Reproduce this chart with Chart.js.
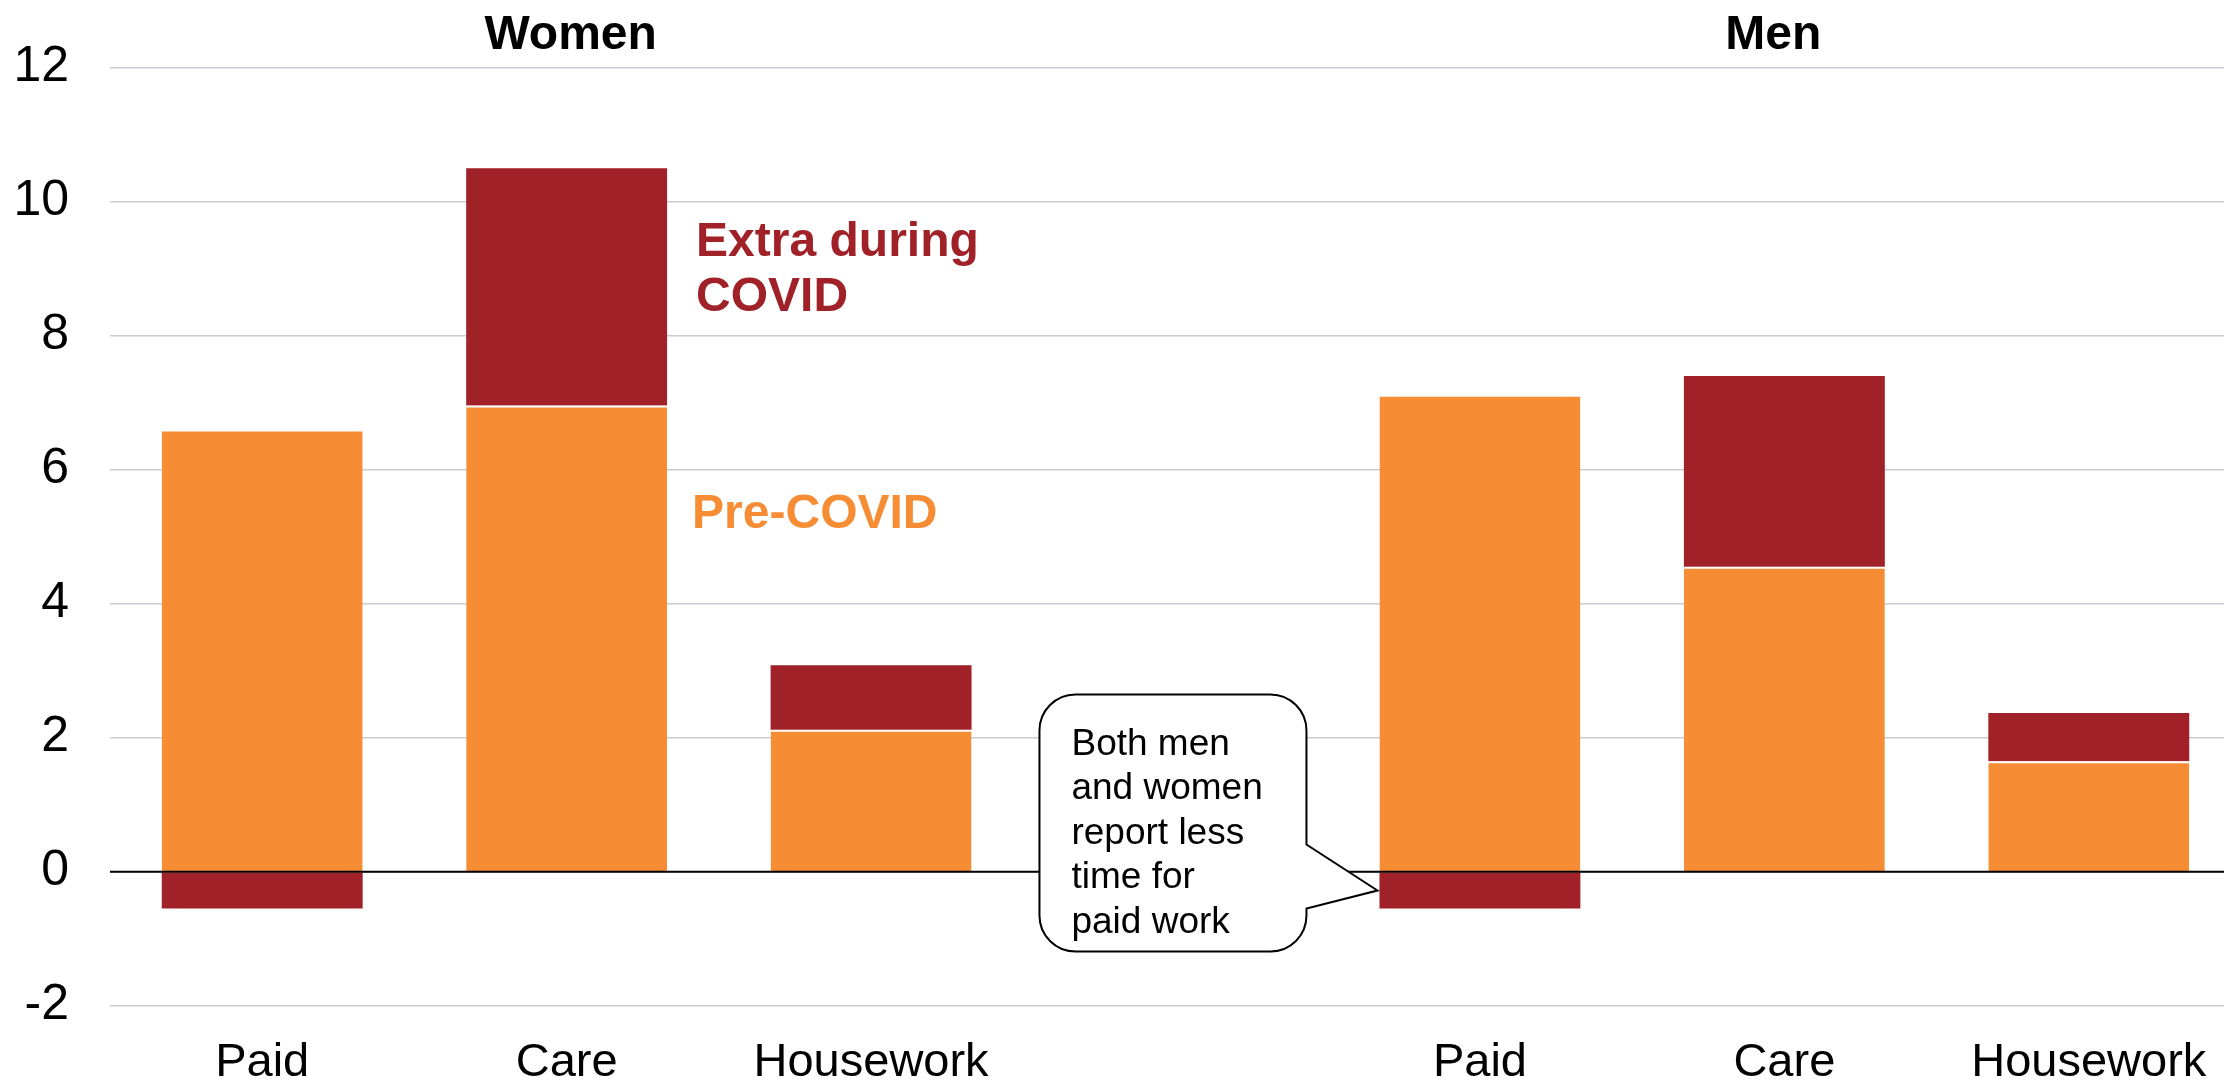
<!DOCTYPE html>
<html>
<head>
<meta charset="utf-8">
<script src="https://cdn.jsdelivr.net/npm/chart.js@4/dist/chart.umd.min.js"></script>
<style>
  html, body { margin: 0; padding: 0; background: #fff; overflow: hidden; }
  #wrap { position: absolute; left: 0; top: 0; width: 2224px; height: 1082px; overflow: hidden; }
  canvas { position: absolute; left: 0; top: 0; }
</style>
</head>
<body>
<div id="wrap"><canvas id="chart" width="2241" height="1082"></canvas></div>
<script>
// Weekly hours by activity, before COVID and the change during COVID
const activities = ['Paid', 'Care', 'Housework'];
const groups = ['Women', 'Men'];
const womenPreCovid = [6.6, 6.96, 2.12];
const womenExtraCovid = [-0.55, 3.54, 0.96];
const menPreCovid = [7.12, 4.55, 1.65];
const menExtraCovid = [-0.55, 2.85, 0.72];
const yTicks = [-2, 0, 2, 4, 6, 8, 10, 12];
const calloutLines = ['Both men', 'and women', 'report less', 'time for', 'paid work'];

const ORANGE = '#F68D35';
const DARK_RED = '#A02128';
const GRID = '#C9CCD1';
const FONT = "'Liberation Sans', Arial, Helvetica, sans-serif";

// One empty slot separates the two groups
const labels = [...activities, '', ...activities];
const preCovid = [...womenPreCovid, null, ...menPreCovid];
const extraCovid = [...womenExtraCovid, null, ...menExtraCovid];

const overlay = {
  id: 'overlay',
  afterDatasetsDraw(chart) {
    const { ctx, chartArea, scales } = chart;
    const x = scales.x, y = scales.y;
    ctx.save();

    // zero line over the bars
    const y0 = y.getPixelForValue(0);
    ctx.strokeStyle = '#000';
    ctx.lineWidth = 2;
    ctx.beginPath();
    ctx.moveTo(chartArea.left, y0);
    ctx.lineTo(chartArea.right, y0);
    ctx.stroke();

    // group headings
    ctx.fillStyle = '#000';
    ctx.font = 'bold 48px ' + FONT;
    ctx.textAlign = 'center';
    ctx.textBaseline = 'alphabetic';
    const womenCenter = (x.getPixelForValue(0) + x.getPixelForValue(2)) / 2 + 4;
    const menCenter = (x.getPixelForValue(4) + x.getPixelForValue(6)) / 2 - 11;
    ctx.fillText(groups[0], womenCenter, 49);
    ctx.fillText(groups[1], menCenter, 49);

    // series labels beside the women's care bar
    const careBar = chart.getDatasetMeta(0).data[1];
    const lx = careBar.x + careBar.width / 2 + 29;
    ctx.textAlign = 'left';
    ctx.font = 'bold 48px ' + FONT;
    ctx.fillStyle = DARK_RED;
    ctx.fillText('Extra during', lx, y.getPixelForValue(9.19));
    ctx.fillText('COVID', lx, y.getPixelForValue(8.37));
    ctx.fillStyle = ORANGE;
    ctx.fillText('Pre-COVID', lx - 4, y.getPixelForValue(5.13));

    // callout pointing at the men's paid-work drop
    const neg = chart.getDatasetMeta(1).data[4];
    const tipX = neg.x - neg.width / 2 - 2;
    const tipY = (neg.y + neg.base) / 2;
    const L = tipX - 338, R = tipX - 71, T = tipY - 196, B = tipY + 61;
    const p1 = tipY - 46, p2 = tipY + 18;
    const r = 36;
    ctx.beginPath();
    ctx.moveTo(L + r, T);
    ctx.arcTo(R, T, R, T + r, r);
    ctx.lineTo(R, p1);
    ctx.lineTo(tipX, tipY);
    ctx.lineTo(R, p2);
    ctx.arcTo(R, B, R - r, B, r);
    ctx.arcTo(L, B, L, B - r, r);
    ctx.arcTo(L, T, L + r, T, r);
    ctx.closePath();
    ctx.fillStyle = '#fff';
    ctx.fill();
    ctx.strokeStyle = '#000';
    ctx.lineWidth = 2;
    ctx.stroke();

    ctx.fillStyle = '#000';
    ctx.font = '37px ' + FONT;
    ctx.textAlign = 'left';
    calloutLines.forEach((line, i) => {
      ctx.fillText(line, L + 32, T + 60 + i * 44.6);
    });

    ctx.restore();
  }
};

new Chart(document.getElementById('chart'), {
  type: 'bar',
  data: {
    labels: labels,
    datasets: [
      {
        label: 'Pre-COVID',
        data: preCovid,
        backgroundColor: ORANGE,
        borderColor: '#fff',
        borderWidth: { top: 2, right: 0, bottom: 0, left: 0 },
        borderSkipped: false
      },
      {
        label: 'Extra during COVID',
        data: extraCovid,
        backgroundColor: DARK_RED,
        borderWidth: 0
      }
    ]
  },
  options: {
    responsive: false,
    devicePixelRatio: 1,
    animation: false,
    layout: { padding: { top: 67.7, left: 0, right: 0, bottom: 0 } },
    plugins: {
      legend: { display: false },
      tooltip: { enabled: false },
      title: { display: false }
    },
    datasets: {
      bar: { categoryPercentage: 1, barPercentage: 0.66 }
    },
    scales: {
      x: {
        stacked: true,
        grid: { display: false, drawTicks: false },
        border: { display: false },
        ticks: {
          color: '#000',
          font: { family: FONT, size: 47 },
          padding: 28.8,
          maxRotation: 0,
          autoSkip: false
        },
        afterFit(scale) { scale.height = 76.3; }
      },
      y: {
        stacked: true,
        min: -2,
        max: 12,
        afterBuildTicks(scale) { scale.ticks = yTicks.map(v => ({ value: v })); },
        grid: {
          color: GRID,
          lineWidth: 1.6,
          drawTicks: false
        },
        border: { display: false },
        ticks: {
          color: '#000',
          font: { family: FONT, size: 50 },
          padding: 41
        },
        afterFit(scale) {
          scale.width = 110;
          scale.paddingTop = 0;
          scale.paddingBottom = 0;
        }
      }
    }
  },
  plugins: [overlay]
});
</script>
</body>
</html>
